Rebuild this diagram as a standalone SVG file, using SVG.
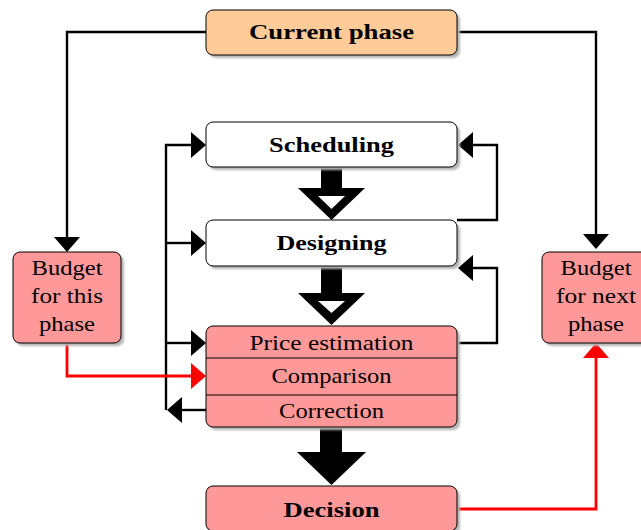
<svg xmlns="http://www.w3.org/2000/svg" width="641" height="530" viewBox="0 0 641 530">
  <style>
    .box { stroke: #000; stroke-width: 1; }
    .white { fill: #ffffff; }
    .orange { fill: #ffcc99; }
    .red { fill: #ff9999; }
    .shadow { fill: #b4b4b4; filter: url(#soft); }
    .b { font-weight: bold; }
    .wire { fill: none; stroke: #000; stroke-width: 2.4; }
    .wire-red { fill: none; stroke: #ff0000; stroke-width: 2.8; }
    .div { stroke: #000; stroke-width: 1; }
  </style>
  <defs>
    <filter id="soft" x="-10%" y="-10%" width="120%" height="130%">
      <feGaussianBlur stdDeviation="0.9"/>
    </filter>
    <marker id="head" viewBox="0 0 15 26" refX="0" refY="13" markerWidth="15" markerHeight="26" markerUnits="userSpaceOnUse" orient="auto">
      <path d="M0,0 L15,13 L0,26 Z" fill="#000"/>
    </marker>
    <marker id="head-red" viewBox="0 0 15 26" refX="0" refY="13" markerWidth="15" markerHeight="26" markerUnits="userSpaceOnUse" orient="auto">
      <path d="M0,0 L15,13 L0,26 Z" fill="#ff0000"/>
    </marker>
  </defs>

  <rect width="641" height="530" fill="#ffffff"/>

  <!-- connectors -->
  <g id="connectors">
    <!-- current phase to both budgets -->
    <path class="wire" d="M206,32 H67 V237" marker-end="url(#head)"/>
    <path class="wire" d="M457,32 H596 V234" marker-end="url(#head)"/>
    <!-- left loop-back bus -->
    <path class="wire" d="M166,410 V145 H191" marker-end="url(#head)"/>
    <path class="wire" d="M166,243 H191" marker-end="url(#head)"/>
    <path class="wire" d="M166,343 H191" marker-end="url(#head)"/>
    <path class="wire" d="M206,410 H182" marker-end="url(#head)"/>
    <!-- right feedback loops -->
    <path class="wire" d="M457,220 H497 V145 H473" marker-end="url(#head)"/>
    <path class="wire" d="M457,343 H497 V268 H473" marker-end="url(#head)"/>
    <!-- budget flows -->
    <path class="wire-red" d="M67,343 V376 H191" marker-end="url(#head-red)"/>
    <path class="wire-red" d="M457,509 H596 V358" marker-end="url(#head-red)"/>
    <!-- block arrows between stages -->
    <g id="block-arrows">
      <rect x="321" y="166" width="21" height="23" fill="#000"/>
      <polygon points="298,188 365,188 331.5,220" fill="#000"/>
      <polygon points="318,196 345,196 331.5,209" fill="#fff"/>
      <rect x="321" y="267" width="21" height="27" fill="#000"/>
      <polygon points="298,293 365,293 331.5,325" fill="#000"/>
      <polygon points="318,301 345,301 331.5,313" fill="#fff"/>
      <rect x="320" y="427" width="22" height="26" fill="#000"/>
      <polygon points="297,452 366,452 331.5,485" fill="#000"/>
    </g>
  </g>

  <g font-family="Liberation Serif, serif" font-size="21" text-anchor="middle" fill="#000">
  <g id="current-phase">
    <rect class="shadow" x="209" y="13" width="251" height="45" rx="7"/>
    <rect class="box orange" x="206" y="10" width="251" height="45" rx="7"/>
    <text class="b" x="331.5" y="39" textLength="165" lengthAdjust="spacingAndGlyphs">Current phase</text>
  </g>

  <g id="scheduling">
    <rect class="shadow" x="209" y="125" width="251" height="45" rx="7"/>
    <rect class="box white" x="206" y="122" width="251" height="45" rx="7"/>
    <text class="b" x="331.5" y="152" textLength="125" lengthAdjust="spacingAndGlyphs">Scheduling</text>
  </g>

  <g id="designing">
    <rect class="shadow" x="209" y="223" width="251" height="46" rx="7"/>
    <rect class="box white" x="206" y="220" width="251" height="46" rx="7"/>
    <text class="b" x="331.5" y="250" textLength="110" lengthAdjust="spacingAndGlyphs">Designing</text>
  </g>

  <g id="estimation">
    <rect class="shadow" x="209" y="329" width="251" height="101" rx="7"/>
    <rect class="box red" x="206" y="326" width="251" height="101" rx="7"/>
    <line class="div" x1="206" y1="358" x2="457" y2="358"/>
    <line class="div" x1="206" y1="395" x2="457" y2="395"/>
    <text x="331.5" y="350" textLength="164" lengthAdjust="spacingAndGlyphs">Price estimation</text>
    <text x="331.5" y="383" textLength="120" lengthAdjust="spacingAndGlyphs">Comparison</text>
    <text x="331.5" y="418" textLength="105" lengthAdjust="spacingAndGlyphs">Correction</text>
  </g>

  <g id="decision">
    <rect class="shadow" x="209" y="489" width="251" height="45" rx="7"/>
    <rect class="box red" x="206" y="486" width="251" height="45" rx="7"/>
    <text class="b" x="331.5" y="517" textLength="96" lengthAdjust="spacingAndGlyphs">Decision</text>
  </g>

  <g id="budget-this">
    <rect class="shadow" x="16" y="255" width="108" height="91" rx="7"/>
    <rect class="box red" x="13" y="252" width="108" height="91" rx="7"/>
    <text x="67" y="275" textLength="71" lengthAdjust="spacingAndGlyphs">Budget</text>
    <text x="67" y="303" textLength="72" lengthAdjust="spacingAndGlyphs">for this</text>
    <text x="67" y="331" textLength="56" lengthAdjust="spacingAndGlyphs">phase</text>
  </g>

  <g id="budget-next">
    <rect class="shadow" x="545" y="255" width="108" height="91" rx="7"/>
    <rect class="box red" x="542" y="252" width="108" height="91" rx="7"/>
    <text x="596" y="275" textLength="71" lengthAdjust="spacingAndGlyphs">Budget</text>
    <text x="596" y="303" textLength="80" lengthAdjust="spacingAndGlyphs">for next</text>
    <text x="596" y="331" textLength="56" lengthAdjust="spacingAndGlyphs">phase</text>
  </g>
  </g>
</svg>
